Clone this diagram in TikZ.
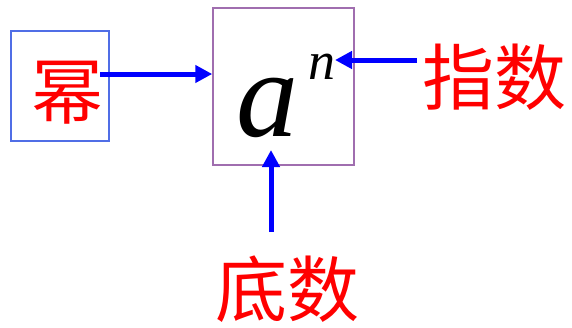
\documentclass[tikz,border=0pt]{standalone}
\usepackage{fontspec}
\setmainfont{Liberation Serif}
\newfontfamily\cjk{Noto Sans CJK SC}
\usetikzlibrary{arrows.meta}
\definecolor{boxblue}{RGB}{80,110,230}
\definecolor{boxpurple}{RGB}{160,110,175}

\begin{document}
\begin{tikzpicture}[x=1pt,y=-1pt,
  word/.style={text=red,font=\cjk\fontsize{72}{72}\selectfont,inner sep=0pt},
  link/.style={blue,line width=5pt,-{Triangle[length=17pt,width=17pt]}}]
  \useasboundingbox (0,0) rectangle (572,327);
  % boxes
  \node[draw=boxblue,line width=1.5pt,minimum width=98pt,minimum height=110pt,inner sep=0pt] (mibox) at (60,86) {};
  \node[draw=boxpurple,line width=1.5pt,minimum width=141pt,minimum height=157pt,inner sep=0pt] (pow) at (283.5,86.5) {};
  % power a^n
  \node[inner sep=0pt,font=\itshape\fontsize{124}{124}\selectfont] (base) at (267,108) {a};
  \node[inner sep=0pt,font=\itshape\fontsize{54}{54}\selectfont] (expo) at (322,67) {n};
  % labels
  \node[word] (mi) at (67,93) {幂};
  \node[word] (zhishu) at (494,77) {指数};
  \node[word] (dishu) at (287,289) {底数};
  % arrows
  \coordinate (mitail) at (100,74);
  \coordinate (zhitip) at (335,60);
  \coordinate (zhitail) at (417,60);
  \coordinate (ditip) at (271,150);
  \coordinate (ditail) at (271,232);
  \draw[link] (mitail) -- (pow.west|-mitail);
  \draw[link] (zhitail) -- (zhitip);
  \draw[link] (ditail) -- (ditip);
\end{tikzpicture}
\end{document}
